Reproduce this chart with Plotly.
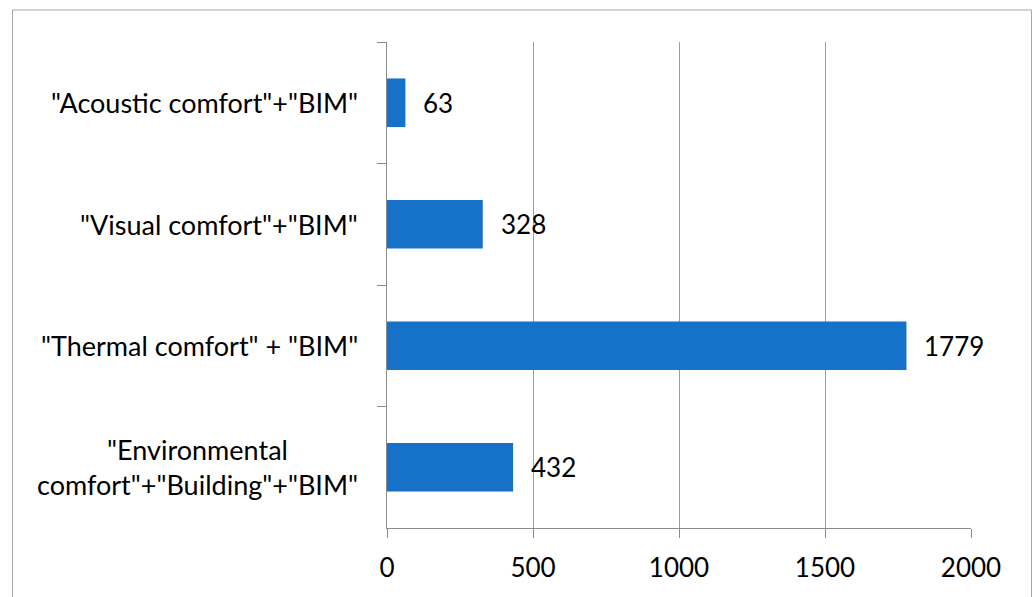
import plotly.graph_objects as go

categories = ['"Acoustic comfort"+"BIM"', '"Visual comfort"+"BIM"',
              '"Thermal comfort" + "BIM"', '"Environmental<br>comfort"+"Building"+"BIM"']
values = [63, 328, 1779, 432]
x_ticks = [0, 500, 1000, 1500, 2000]

W, H = 1036, 597
L, R, T, B = 387, 65, 42, 69
FONT = "Lato"
FS_NUM = 26
FS_CAT = 27
BAR = "#1672C8"

fig = go.Figure()
fig.add_trace(go.Bar(
    x=values, y=categories, orientation="h",
    marker=dict(color=BAR, line=dict(width=0)),
    width=0.4, hoverinfo="skip",
))

# data labels
for c, v in zip(categories, values):
    fig.add_annotation(x=v, y=c, xref="x", yref="y", text=str(v),
                       showarrow=False, xanchor="left", yanchor="middle",
                       xshift=16, font=dict(family=FONT, size=FS_NUM, color="#000000"))
# category labels (centered multi-line, right aligned block)
for c in categories:
    fig.add_annotation(x=0, y=c, xref="paper", yref="y", text=c,
                       showarrow=False, xanchor="right", yanchor="middle",
                       align="center", xshift=-27,
                       font=dict(family=FONT, size=FS_CAT, color="#000000"))

# outer chart border
pw = W - L - R
ph = H - T - B
def px_x(px):
    return (px - L) / pw
def px_y(py):
    return (H - B - py) / ph
fig.add_shape(type="rect", xref="paper", yref="paper",
              x0=px_x(12.5), x1=px_x(1031.5),
              y0=px_y(610), y1=px_y(10),
              line=dict(color="#A8A8A8", width=1), fillcolor="rgba(0,0,0,0)",
              layer="below")

fig.update_layout(
    width=W, height=H,
    margin=dict(l=L, r=R, t=T, b=B, pad=0),
    paper_bgcolor="white", plot_bgcolor="white",
    showlegend=False,
    font=dict(family=FONT, size=FS_NUM, color="#000000"),
    xaxis=dict(range=[0, 2000], tickvals=x_ticks, ticktext=[str(t) for t in x_ticks],
               showgrid=True, gridcolor="#9E9E9E", gridwidth=1,
               showline=True, linecolor="#8C8C8C", linewidth=1,
               ticks="outside", ticklen=9, tickcolor="#8C8C8C",
               ticklabelstandoff=8,
               zeroline=False, fixedrange=True,
               tickfont=dict(family=FONT, size=FS_NUM, color="#000000")),
    yaxis=dict(type="category", categoryorder="array", categoryarray=categories,
               autorange=False, range=[3.5, -0.5],
               showticklabels=False, tickson="boundaries",
               ticks="outside", ticklen=9, tickcolor="#8C8C8C",
               showline=True, linecolor="#8C8C8C", linewidth=1,
               showgrid=False, zeroline=False, fixedrange=True),
)

fig.write_html("out.html", config={"displayModeBar": False},
               post_script="document.body.style.margin='0';document.body.style.overflow='hidden';")
